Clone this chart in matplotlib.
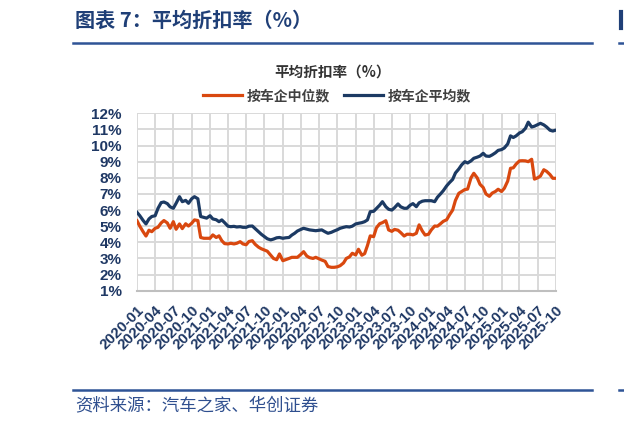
import matplotlib
matplotlib.use('Agg')
import matplotlib.pyplot as plt
import matplotlib.dates as mdates
import pandas as pd
from matplotlib.lines import Line2D
from matplotlib.font_manager import FontProperties

plt.rcParams['font.family'] = ['Liberation Sans', 'Noto Sans CJK SC', 'DejaVu Sans']

# semi-monthly observations, 2020-01 .. 2025-10
dates = pd.date_range('2020-01-01', '2025-10-01', freq='SMS')

median_vals = [
    5.34, 5.00, 4.65, 4.39, 4.75, 4.66, 4.87, 4.93, 5.20, 5.35,
    5.20, 4.87, 5.28, 4.81, 5.14, 4.85, 5.15, 5.01, 5.18, 5.39,
    5.35, 4.30, 4.25, 4.25, 4.25, 4.46, 4.30, 4.40, 4.10, 3.92,
    3.90, 3.94, 3.90, 3.94, 4.04, 3.90, 3.85, 4.05, 4.10, 3.88,
    3.70, 3.60, 3.52, 3.45, 3.20, 3.00, 2.92, 3.28, 2.86, 2.92,
    3.00, 3.07, 3.07, 3.07, 3.25, 3.42, 3.15, 3.05, 3.00, 3.07,
    2.98, 2.90, 2.82, 2.50, 2.45, 2.45, 2.48, 2.55, 2.72, 3.00,
    3.10, 3.32, 3.22, 3.57, 3.20, 3.30, 3.80, 4.40, 4.35, 4.90,
    5.15, 5.22, 5.34, 4.77, 4.68, 4.80, 4.75, 4.60, 4.39, 4.50,
    4.50, 4.46, 4.56, 5.08, 4.70, 4.45, 4.50, 4.77, 5.01, 5.00,
    5.15, 5.30, 5.40, 5.70, 6.00, 6.60, 7.04, 7.15, 7.27, 7.30,
    8.00, 8.28, 8.00, 7.60, 7.40, 7.00, 6.85, 7.05, 7.15, 7.29,
    7.15, 7.35, 7.80, 8.59, 8.62, 8.85, 9.05, 9.06, 9.05, 9.00,
    9.15, 7.92, 8.00, 8.11, 8.50, 8.40, 8.20, 7.97, 7.97,
]

mean_vals = [
    5.86, 5.65, 5.35, 5.14, 5.45, 5.60, 5.65, 6.10, 6.46, 6.50,
    6.40, 6.20, 6.11, 6.42, 6.83, 6.52, 6.60, 6.42, 6.70, 6.83,
    6.70, 5.60, 5.55, 5.50, 5.65, 5.45, 5.40, 5.28, 5.39, 5.22,
    5.00, 4.97, 4.99, 4.95, 4.97, 4.93, 4.93, 5.00, 5.01, 4.85,
    4.65, 4.50, 4.35, 4.22, 4.15, 4.20, 4.28, 4.30, 4.25, 4.28,
    4.30, 4.45, 4.56, 4.70, 4.80, 4.87, 4.82, 4.77, 4.74, 4.72,
    4.75, 4.77, 4.65, 4.56, 4.62, 4.70, 4.78, 4.87, 4.93, 4.97,
    4.95, 5.00, 5.14, 5.18, 5.22, 5.28, 5.39, 5.90, 5.92, 6.10,
    6.30, 6.52, 6.21, 6.05, 6.00, 6.15, 6.38, 6.20, 6.11, 6.11,
    6.30, 6.40, 6.21, 6.45, 6.55, 6.58, 6.58, 6.58, 6.52, 6.80,
    7.00, 7.20, 7.50, 7.70, 7.90, 8.30, 8.55, 8.80, 9.00, 8.92,
    9.05, 9.21, 9.28, 9.35, 9.52, 9.35, 9.33, 9.42, 9.55, 9.70,
    9.75, 9.85, 10.10, 10.60, 10.50, 10.60, 10.78, 10.86, 11.07, 11.45,
    11.15, 11.20, 11.30, 11.38, 11.28, 11.15, 10.95, 10.90, 10.96,
]

tick_labels = [
    '2020-01', '2020-04', '2020-07', '2020-10',
    '2021-01', '2021-04', '2021-07', '2021-10',
    '2022-01', '2022-04', '2022-07', '2022-10',
    '2023-01', '2023-04', '2023-07', '2023-10',
    '2024-01', '2024-04', '2024-07', '2024-10',
    '2025-01', '2025-04', '2025-07', '2025-10',
]
y_ticks = [1, 2, 3, 4, 5, 6, 7, 8, 9, 10, 11, 12]

series_names = ['按车企中位数', '按车企平均数']
colors = ['#d9480f', '#1c3a63']

W, H = 624, 425
fig = plt.figure(figsize=(W / 100, H / 100), dpi=100)
ax = fig.add_axes([137 / W, 1 - 290.7 / H, (556 - 137) / W, (290.7 - 113.3) / H])

ax.plot(dates, median_vals, color=colors[0], lw=2.3, label=series_names[0], solid_joinstyle='round')
ax.plot(dates, mean_vals, color=colors[1], lw=2.3, label=series_names[1], solid_joinstyle='round')

tick_dates = pd.to_datetime(tick_labels, format='%Y-%m')
ax.set_xlim(dates[0], dates[-1])
ax.set_ylim(1, 12)
ax.set_xticks(tick_dates)
ax.set_xticklabels(tick_labels, rotation=45, ha='right', va='top', rotation_mode='anchor',
                   fontsize=10.8, fontweight='bold', color='#1f3864', family='Liberation Sans')
ax.set_yticks(y_ticks)
ax.set_yticklabels([f'{v}%' for v in y_ticks], fontsize=11, fontweight='bold',
                   color='#1f3864', family='Liberation Sans')
ax.tick_params(axis='both', length=0)
ax.tick_params(axis='x', pad=9)
ax.tick_params(axis='y', pad=11)

ax.grid(True, color='#d9d9d9', lw=1.4)
ax.set_axisbelow(True)
for s in ['top', 'right', 'left']:
    ax.spines[s].set_visible(False)
ax.spines['bottom'].set_color('#bfbfbf')
ax.spines['bottom'].set_linewidth(1.5)

cjk = ['Noto Sans CJK SC', 'DejaVu Sans']
fig.text(333 / W, 1 - 72 / H, '平均折扣率（%）', ha='center', va='center', fontsize=10.5,
         fontweight='bold', color='#333333', family=cjk)

fig.legend(loc='center', bbox_to_anchor=(337 / W, 1 - 96 / H), ncol=2, frameon=False,
           prop=FontProperties(family=cjk, weight='bold', size=10),
           handlelength=2.8, handletextpad=0.35, columnspacing=1.0, labelcolor='#404040')

fig.text(75 / W, 1 - 20 / H, '图表 7：平均折扣率（%）', ha='left', va='center', fontsize=14.5,
         fontweight='bold', color='#1f3f77', family=cjk)
rule_c = '#2f5496'
fig.add_artist(Line2D([73 / W, 592 / W], [1 - 43 / H] * 2, color=rule_c, lw=1.8))
fig.add_artist(Line2D([619 / W, 1], [1 - 43 / H] * 2, color=rule_c, lw=1.8))
fig.add_artist(Line2D([621 / W, 621 / W], [1 - 12 / H, 1 - 28 / H], color='#1f3f77', lw=3))
fig.add_artist(Line2D([73 / W, 592 / W], [1 - 390 / H] * 2, color=rule_c, lw=1.8))
fig.add_artist(Line2D([619 / W, 1], [1 - 390 / H] * 2, color=rule_c, lw=1.8))

fig.text(75 / W, 1 - 405 / H, '资料来源：汽车之家、华创证券', ha='left', va='center', fontsize=12.5,
         color='#2f4f8f', family=cjk)

fig.savefig('out.png', dpi=100)
